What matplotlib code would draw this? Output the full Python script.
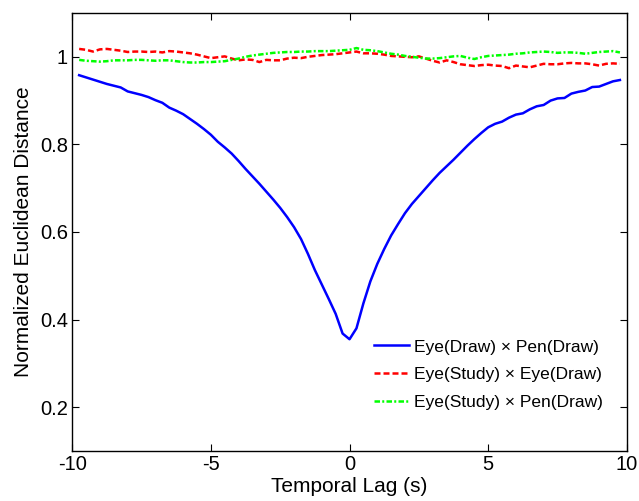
import numpy as np
import matplotlib
matplotlib.use("Agg")
from matplotlib import pyplot as plt

plt.rcParams['font.family'] = ['Liberation Sans', 'DejaVu Sans']

# temporal lag (s), step 0.25
lag = np.arange(-39, 40) * 0.25

eye_pen = [0.958, 0.953, 0.948, 0.943, 0.938, 0.934, 0.930, 0.921, 0.917, 0.913,
           0.908, 0.901, 0.895, 0.884, 0.877, 0.869, 0.858, 0.847, 0.835, 0.822,
           0.806, 0.793, 0.779, 0.762, 0.744, 0.727, 0.710, 0.692, 0.674, 0.655,
           0.634, 0.611, 0.584, 0.550, 0.513, 0.480, 0.447, 0.413, 0.368, 0.355,
           0.380, 0.437, 0.487, 0.527, 0.561, 0.592, 0.618, 0.643, 0.664, 0.682,
           0.700, 0.718, 0.735, 0.750, 0.765, 0.781, 0.797, 0.812, 0.826, 0.839,
           0.847, 0.852, 0.861, 0.868, 0.871, 0.880, 0.887, 0.890, 0.900, 0.905,
           0.906, 0.916, 0.920, 0.923, 0.931, 0.932, 0.938, 0.944, 0.947]

study_eye = [1.018, 1.016, 1.012, 1.017, 1.018, 1.016, 1.014, 1.011, 1.012, 1.012,
             1.011, 1.012, 1.010, 1.013, 1.012, 1.010, 1.008, 1.005, 1.001, 0.997,
             0.999, 1.001, 0.996, 0.992, 0.994, 0.993, 0.988, 0.993, 0.992, 0.992,
             0.996, 0.998, 0.997, 1.000, 1.002, 1.004, 1.005, 1.006, 1.008, 1.010,
             1.012, 1.008, 1.008, 1.007, 1.005, 1.002, 1.001, 1.000, 0.999, 1.001,
             0.996, 0.991, 0.987, 0.992, 0.988, 0.983, 0.981, 0.979, 0.981, 0.982,
             0.980, 0.979, 0.974, 0.980, 0.978, 0.976, 0.980, 0.984, 0.983, 0.983,
             0.985, 0.986, 0.985, 0.985, 0.983, 0.980, 0.984, 0.985, 0.984]

study_pen = [0.993, 0.991, 0.990, 0.989, 0.990, 0.992, 0.992, 0.992, 0.993, 0.993,
             0.992, 0.991, 0.992, 0.992, 0.990, 0.988, 0.987, 0.987, 0.988, 0.988,
             0.989, 0.990, 0.993, 0.996, 1.000, 1.003, 1.005, 1.007, 1.009, 1.010,
             1.011, 1.011, 1.012, 1.012, 1.013, 1.013, 1.013, 1.014, 1.015, 1.016,
             1.020, 1.016, 1.015, 1.013, 1.010, 1.007, 1.005, 1.002, 1.000, 0.998,
             0.996, 0.996, 0.997, 0.999, 1.001, 1.002, 0.998, 0.995, 0.999, 1.002,
             1.003, 1.004, 1.005, 1.007, 1.008, 1.010, 1.011, 1.012, 1.011, 1.009,
             1.010, 1.010, 1.009, 1.007, 1.009, 1.011, 1.012, 1.013, 1.010]

fig = plt.figure(figsize=(6.39, 5.01), dpi=100)
ax = fig.add_axes([0.113, 0.100, 0.868, 0.874])

ax.plot(lag, eye_pen, color="#0000ff", lw=1.8, label="Eye(Draw) \u00d7 Pen(Draw)")
ax.plot(lag, study_eye, color="#ff0000", lw=1.8, ls="--", dashes=(2.4, 1.2),
        label="Eye(Study) \u00d7 Eye(Draw)")
ax.plot(lag, study_pen, color="#00ff00", lw=1.8, ls="-.", dashes=(2.2, 0.9, 0.8, 0.9),
        label="Eye(Study) \u00d7 Pen(Draw)")

ax.set_xlim(-10, 10)
ax.set_ylim(0.1, 1.1)
ax.set_xticks([-10, -5, 0, 5, 10])
ax.set_xticklabels(["-10", "-5", "0", "5", "10"])
ax.set_yticks([0.2, 0.4, 0.6, 0.8, 1.0])
ax.set_yticklabels(["0.2", "0.4", "0.6", "0.8", "1"])
ax.tick_params(direction="in", top=True, right=True, labelsize=14.5, length=5, pad=3)
for s in ax.spines.values():
    s.set_linewidth(1.0)

ax.set_xlabel("Temporal Lag (s)", fontsize=15, labelpad=2)
ax.set_ylabel("Normalized Euclidean Distance", fontsize=15, labelpad=5)

ax.legend(loc="lower right", bbox_to_anchor=(0.985, 0.058), frameon=False, fontsize=12.5,
          handlelength=2.0, handletextpad=0.3, labelspacing=0.72, borderpad=0.4)

fig.savefig("out.png", dpi=100)
